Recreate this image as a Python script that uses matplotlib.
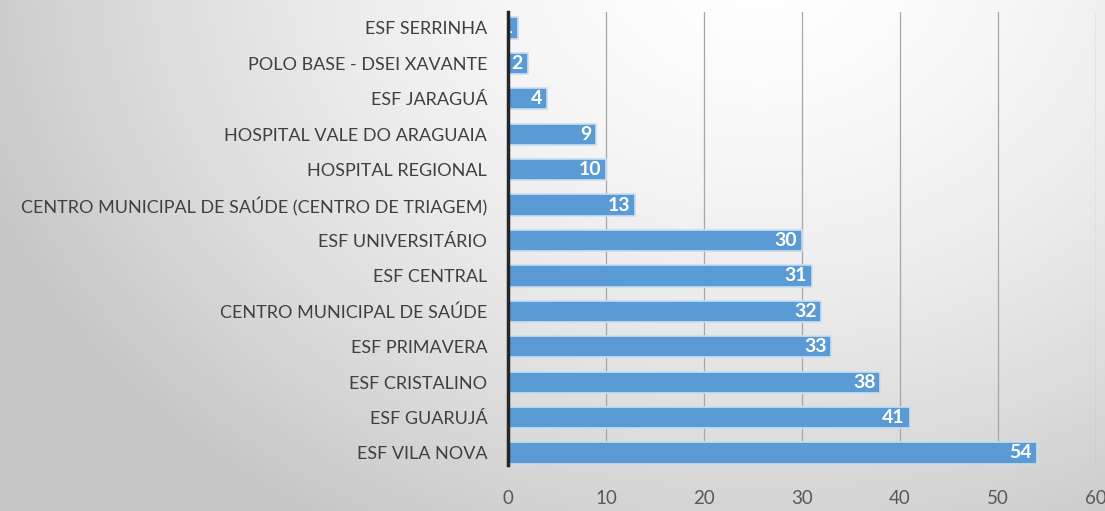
import matplotlib.pyplot as plt
import numpy as np

categories = ['ESF SERRINHA', 'POLO BASE - DSEI XAVANTE', 'ESF JARAGUÁ',
              'HOSPITAL VALE DO ARAGUAIA', 'HOSPITAL REGIONAL',
              'CENTRO MUNICIPAL DE SAÚDE (CENTRO DE TRIAGEM)', 'ESF UNIVERSITÁRIO',
              'ESF CENTRAL', 'CENTRO MUNICIPAL DE SAÚDE', 'ESF PRIMAVERA',
              'ESF CRISTALINO', 'ESF GUARUJÁ', 'ESF VILA NOVA']
values = [1, 2, 4, 9, 10, 13, 30, 31, 32, 33, 38, 41, 54]
xticks = [0, 10, 20, 30, 40, 50, 60]

plt.rcParams['font.family'] = ['Lato', 'DejaVu Sans']

fig = plt.figure(figsize=(11.05, 5.11), dpi=100)

# radial background gradient
bg = fig.add_axes([0, 0, 1, 1], zorder=-10)
yy, xx = np.mgrid[0:511, 0:1105]
d = np.sqrt(((xx - 760) / 700.0) ** 2 + ((yy + 40) / 560.0) ** 2)
g = np.clip(1.0 - 0.17 * d ** 1.6, 0.78, 1.0)
bg.imshow(np.dstack([g, g, g]), aspect='auto', extent=[0, 1, 0, 1])
bg.axis('off')

ax = fig.add_axes([0.4597, 0.09, 0.532, 0.8865])
ax.patch.set_alpha(0)
y = np.arange(len(categories))
bars = ax.barh(y, values, height=0.6, color='#5b9bd5',
               edgecolor='#c9dff2', linewidth=1.2, zorder=3)
for b, v in zip(bars, values):
    ax.text(v - 0.5, b.get_y() + b.get_height() / 2, str(v), ha='right', va='center',
            color='white', fontsize=14, fontweight='bold', zorder=4)

ax.set_xlim(0, 60)
ax.set_ylim(12.34, -0.45)
ax.set_xticks(xticks)
ax.set_xticklabels([str(t) for t in xticks], fontsize=13.5, color='#595959')
ax.set_yticks(y)
ax.set_yticklabels(categories, fontsize=13, color='#404040')
ax.tick_params(axis='y', length=0, pad=15)
ax.tick_params(axis='x', length=0, pad=18)
ax.grid(axis='x', color='#a6a6a6', linewidth=0.9, zorder=0)
for s in ['top', 'right', 'bottom']:
    ax.spines[s].set_visible(False)
ax.spines['left'].set_color('#262626')
ax.spines['left'].set_linewidth(2.5)
ax.spines['left'].set_zorder(5)

fig.savefig('out.png', dpi=100)
